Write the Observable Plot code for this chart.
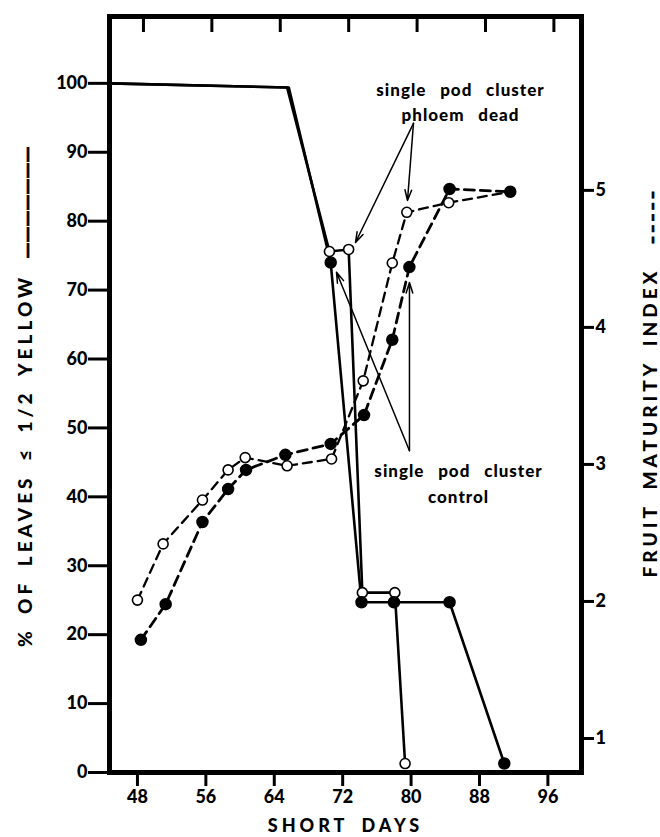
<!DOCTYPE html>
<html><head><meta charset="utf-8">
<script src="https://cdn.jsdelivr.net/npm/d3@7"></script>
<script src="https://cdn.jsdelivr.net/npm/@observablehq/plot@0.6"></script>
<style>html,body{margin:0;padding:0;background:#fff} svg{display:block}</style>
</head><body><div id="chart"></div>
<script>
// ---- Solid lines: % of leaves <= 1/2 yellow (left axis) ----
const deadLeafDays   = [44.73, 65.5, 70.45, 72.7, 74.3, 78.1, 79.3];
const deadLeafPct    = [100, 99.4, 75.6, 75.9, 26.1, 26.1, 1.3];
const deadLeafMarked = [false, false, true, true, true, true, true];
const ctrlLeafDays   = [44.73, 65.7, 70.6, 74.2, 78.0, 84.5, 90.9];
const ctrlLeafPct    = [100, 99.4, 74.0, 24.7, 24.7, 24.7, 1.3];
const ctrlLeafMarked = [false, false, true, true, true, true, true];
// ---- Dashed lines: fruit maturity index (right axis) ----
const deadFruitDays = [48.0, 51.0, 55.6, 58.6, 60.6, 65.5, 70.7, 74.4, 77.8, 79.5, 84.4, 91.6];
const deadFruitIdx  = [2.01, 2.42, 2.74, 2.96, 3.05, 2.99, 3.04, 3.61, 4.47, 4.84, 4.91, 4.99];
const ctrlFruitDays = [48.4, 51.3, 55.6, 58.6, 60.7, 65.3, 70.6, 74.5, 77.8, 79.8, 84.5, 91.6];
const ctrlFruitIdx  = [1.72, 1.98, 2.58, 2.82, 2.96, 3.07, 3.15, 3.36, 3.91, 4.44, 5.01, 4.99];
// ---- Ticks ----
const xTicks = [48, 56, 64, 72, 80, 88, 96];
const leftTicks = [0, 10, 20, 30, 40, 50, 60, 70, 80, 90, 100];
const rightTicks = [1, 2, 3, 4, 5];
// ---- Annotations (data units: day, % leaves) ----
const labels = [
  {day: 85.78, pct: 97.5, text: "single\u2003pod\u2003cluster\nphloem\u2003dead"},
  {day: 85.55, pct: 42.2, text: "single\u2003pod\u2003cluster\ncontrol"}
];
const arrows = [
  {d1: 80.28, p1: 94.2, d2: 73.5,  p2: 76.9},
  {d1: 80.28, p1: 94.2, d2: 79.58, p2: 83.0},
  {d1: 79.81, p1: 46.7, d2: 71.28, p2: 72.6},
  {d1: 79.81, p1: 46.7, d2: 79.81, p2: 71.1}
];

// right-axis index mapped onto the left-axis scale
const rToLeft = d3.scaleLinear([1, 5], [4.935, 84.47]);

const table = (days, vals, marked) => days.map((d, i) => ({day: d, v: vals[i], m: marked ? marked[i] : true}));
const deadLeaf = table(deadLeafDays, deadLeafPct, deadLeafMarked);
const ctrlLeaf = table(ctrlLeafDays, ctrlLeafPct, ctrlLeafMarked);
const deadFruit = table(deadFruitDays, deadFruitIdx.map(rToLeft));
const ctrlFruit = table(ctrlFruitDays, ctrlFruitIdx.map(rToLeft));

const FONT = "Lato, 'DejaVu Sans', sans-serif";
const frameH = 837 - 16 - 65;

const plot = Plot.plot({
  width: 660, height: 837,
  marginLeft: 109, marginRight: 79, marginTop: 16, marginBottom: 65,
  x: {domain: [44.73, 99.93]},
  y: {domain: [0, 109.7]},
  style: {fontFamily: FONT, fontWeight: 900, color: "#000", background: "#fff", overflow: "visible"},
  marks: [
    Plot.axisX(xTicks, {anchor: "bottom", tickSize: 14, tickPadding: 4, fontSize: 18, strokeWidth: 3, label: null}),
    Plot.ruleX(xTicks, {insetBottom: frameH - 16, strokeWidth: 3, dx: 6}),
    Plot.axisY(leftTicks, {anchor: "left", tickSize: 21, tickPadding: 1, fontSize: 18, strokeWidth: 3, label: null}),
    Plot.axisY(rightTicks.map(rToLeft), {anchor: "right", tickSize: 12, tickPadding: 2, fontSize: 18, strokeWidth: 3, label: null,
      tickFormat: d => String(Math.round(rToLeft.invert(d)))}),
    Plot.frame({strokeWidth: 5}),
    // solid lines
    Plot.line(ctrlLeaf, {x: "day", y: "v", strokeWidth: 2.6}),
    Plot.line(deadLeaf, {x: "day", y: "v", strokeWidth: 2.6}),
    // dashed lines
    Plot.line(ctrlFruit, {x: "day", y: "v", strokeWidth: 2.8, strokeDasharray: "10,6"}),
    Plot.line(deadFruit, {x: "day", y: "v", strokeWidth: 2.3, strokeDasharray: "9,6"}),
    // arrows
    Plot.arrow(arrows, {x1: "d1", y1: "p1", x2: "d2", y2: "p2", strokeWidth: 1.5, headLength: 11, headAngle: 35}),
    // markers
    Plot.dot(deadFruit, {x: "day", y: "v", r: 5, fill: "white", stroke: "black", strokeWidth: 1.6}),
    Plot.dot(ctrlFruit, {x: "day", y: "v", r: 5.5, fill: "black", stroke: "black"}),
    Plot.dot(deadLeaf.filter(d => d.m), {x: "day", y: "v", r: 5, fill: "white", stroke: "black", strokeWidth: 1.6}),
    Plot.dot(ctrlLeaf.filter(d => d.m), {x: "day", y: "v", r: 5.5, fill: "black", stroke: "black"}),
    // annotation text
    Plot.text(labels, {x: "day", y: "pct", text: "text", fontSize: 17, lineHeight: 1.5, fontWeight: 900}),
    // axis titles
    Plot.text(["%\u2002OF\u2002LEAVES\u2002\u2264\u20021/2\u2002YELLOW"], {frameAnchor: "left", textAnchor: "middle", rotate: -90, dx: -84, dy: 66, fontSize: 19, fontWeight: 900}),
    Plot.text(["\u2014\u2014\u2014\u2014\u2014\u2014\u2014"], {frameAnchor: "left", textAnchor: "middle", rotate: -90, dx: -83, dy: -192, fontSize: 16, fontFamily: "DejaVu Sans", fontWeight: 700, fill: "black", stroke: "black", strokeWidth: 0.6}),
    Plot.text(["FRUIT\u2002MATURITY\u2002INDEX"], {frameAnchor: "right", textAnchor: "middle", rotate: -90, dx: 69, dy: 28, fontSize: 19, fontWeight: 900}),
    Plot.text(["\u2013\u2009\u2013\u2009\u2013\u2009\u2013\u2009\u2013"], {frameAnchor: "right", textAnchor: "middle", rotate: -90, dx: 70, dy: -177, fontSize: 16, fontFamily: "DejaVu Sans", fontWeight: 700, fill: "black", stroke: "black", strokeWidth: 0.6}),
    Plot.text(["SHORT\u2002DAYS"], {frameAnchor: "bottom", dy: 59, fontSize: 18, fontWeight: 900})
  ]
});

d3.select(plot).selectAll("text").each(function() {
  const t = this.textContent;
  if (/YELLOW|MATURITY|SHORT/.test(t)) this.style.letterSpacing = "4px";
  else if (/single|control|phloem/.test(t)) this.style.letterSpacing = "1px";
});
document.getElementById("chart").appendChild(plot);
</script>
</body></html>
